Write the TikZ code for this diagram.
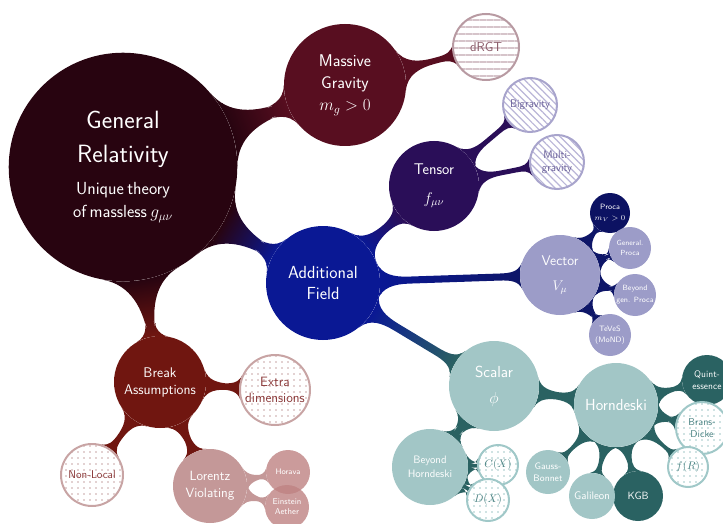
\documentclass[tikz,border=0pt]{standalone}
\usepackage{fix-cm}
\usepackage{fontspec}
\usetikzlibrary{mindmap,patterns.meta,backgrounds}
\definecolor{grc}{RGB}{40,4,16}
\definecolor{mgc}{RGB}{88,14,32}
\definecolor{drgtb}{RGB}{184,154,162}
\definecolor{drgtl}{RGB}{214,196,202}
\definecolor{drgtt}{RGB}{138,90,104}
\definecolor{afc}{RGB}{10,24,148}
\definecolor{tenc}{RGB}{42,14,88}
\definecolor{bigb}{RGB}{168,164,204}
\definecolor{bigl}{RGB}{186,182,216}
\definecolor{bigt}{RGB}{106,96,153}
\definecolor{vecf}{RGB}{156,156,200}
\definecolor{vecc}{RGB}{14,22,104}
\definecolor{procf}{RGB}{12,18,98}
\definecolor{scaf}{RGB}{162,198,198}
\definecolor{scac}{RGB}{42,98,98}
\definecolor{teab}{RGB}{160,200,200}
\definecolor{teat}{RGB}{74,130,130}
\definecolor{brkc}{RGB}{112,22,16}
\definecolor{redb}{RGB}{200,164,164}
\definecolor{redt}{RGB}{138,56,56}
\definecolor{lorf}{RGB}{196,152,152}
\definecolor{horf}{RGB}{190,130,130}
\newcommand{\fsz}[2]{\fontsize{#1}{#2}\selectfont}
\tikzset{
  cn/.style={circle, inner sep=0pt, align=center, text=white, font=\sffamily},
  fs/.style 2 args={font=\sffamily\fsz{#1}{#2}},
  patlines/.style={cn, preaction={fill=white}, line width=2pt, draw=drgtb, text=drgtt,
     pattern={Lines[angle=0, distance=7pt, line width=1.3pt]}, pattern color=drgtl},
  patdiag/.style={cn, preaction={fill=white}, line width=2pt, draw=bigb, text=bigt,
     pattern={Lines[angle=-45, distance=5pt, line width=1.2pt]}, pattern color=bigl},
  patreddots/.style={cn, preaction={fill=white}, line width=2pt, draw=redb, text=redt,
     pattern={Dots[distance=6pt, radius=0.9pt]}, pattern color=redb},
  patteadots/.style={cn, preaction={fill=white}, line width=2pt, draw=teab, text=teat,
     pattern={Dots[distance=6pt, radius=0.9pt]}, pattern color=teab},
  bar/.style n args={3}{circle connection bar switch color=from (#1) to (#2), line width=#3},
}
\begin{document}
\begin{tikzpicture}[x=1pt, y=-1pt]
\useasboundingbox (0,0) rectangle (723,524);
% nodes
\node[cn, fill=grc, minimum size=220pt, text width=200pt] (gr) at (123,167)
  {\fsz{25}{34}General\\Relativity\par\vspace{9pt}\fsz{17.5}{23}Unique theory\\of massless $g_{\mu\nu}$\par};
\node[cn, fill=mgc, minimum size=122pt, fs={17}{22}] (mg) at (345,85)
  {Massive\\Gravity\\$m_g>0$};
\node[patlines, minimum size=66pt, fs={13}{15}] (drgt) at (486,47) {dRGT};
\node[cn, fill=afc, minimum size=114pt, fs={17.5}{21}] (af) at (323,283)
  {Additional\\Field};
\node[cn, fill=tenc, minimum size=90pt, fs={15.5}{18}] (ten) at (434,186)
  {Tensor\\[11pt]$f_{\mu\nu}$};
\node[patdiag, minimum size=54pt, fs={11}{13}] (big) at (530,105) {Bigravity};
\node[patdiag, minimum size=54pt, fs={11}{13}] (mul) at (557,162) {Multi-\\gravity};
\node[cn, fill=vecf, minimum size=80pt, fs={14}{17}] (vec) at (560,275)
  {Vector\\[8pt]$V_\mu$};
\node[cn, fill=procf, minimum size=40pt, fs={7.7}{11}] (proca) at (610,213)
  {Proca\\$m_V>0$};
\node[cn, fill=vecf, minimum size=42pt, fs={7.4}{10}] (gproca) at (630,248)
  {General.\\Proca};
\node[cn, fill=vecf, minimum size=42pt, fs={7.6}{12}] (bproca) at (635,295)
  {Beyond\\gen. Proca};
\node[cn, fill=vecf, minimum size=42pt, fs={7.8}{11}] (teves) at (610,335)
  {TeVeS\\(MoND)};
\node[cn, fill=scaf, minimum size=90pt, fs={16}{19}] (sca) at (494,386)
  {Scalar\\[7pt]$\phi$};
\node[cn, fill=scaf, minimum size=84pt, fs={16}{18}] (hor) at (616,405) {Horndeski};
\node[cn, fill=scac, minimum size=50pt, fs={9.5}{12}] (quint) at (707,380)
  {Quint-\\essence};
\node[patteadots, minimum size=52pt, fs={10}{12}] (bd) at (702,428) {Brans-\\Dicke};
\node[patteadots, minimum size=40pt, fs={11}{13}] (fr) at (688,467) {$f(R)$};
\node[cn, fill=scac, minimum size=50pt, fs={10.5}{12}] (kgb) at (638,496) {KGB};
\node[cn, fill=scaf, minimum size=46pt, fs={11}{13}] (gal) at (592,496) {Galileon};
\node[cn, fill=scaf, minimum size=44pt, fs={9.4}{12}] (gb) at (548,472) {Gauss-\\Bonnet};
\node[cn, fill=scaf, minimum size=76pt, fs={10.8}{14}] (bh) at (430,467)
  {Beyond\\Horndeski};
\node[patteadots, minimum size=40pt, fs={11}{13}] (cx) at (498,465) {$C(X)$};
\node[patteadots, minimum size=42pt, fs={11}{13}] (dx) at (488,500) {$D(X)$};
\node[cn, fill=brkc, minimum size=92pt, fs={14}{17}] (brk) at (160,382)
  {Break\\Assumptions};
\node[patreddots, minimum size=70pt, fs={13.5}{16}] (ext) at (275,390)
  {Extra\\dimensions};
\node[patreddots, minimum size=62pt, fs={11.3}{13}] (nl) at (92,475) {Non-Local};
\node[cn, fill=lorf, minimum size=74pt, fs={13.4}{17}] (lor) at (210,486)
  {Lorentz\\Violating};
\node[cn, fill=horf, fill opacity=0.8, text opacity=1, minimum size=44pt, fs={8}{10}] (hora) at (288,472)
  {Horava};
\node[cn, fill=horf, fill opacity=0.8, text opacity=1, minimum size=44pt, fs={8.5}{10}] (aeth) at (287,507)
  {Einstein\\Aether};
% connections
\begin{scope}[on background layer]
\path (gr) to[bar={grc}{mgc}{7pt}] (mg);
\path (gr) to[bar={grc}{afc}{9pt}] (af);
\path (gr) to[bar={grc}{brkc}{10pt}] (brk);
\path (mg) to[bar={mgc}{mgc}{4pt}] (drgt);
\path (af) to[bar={afc}{tenc}{5pt}] (ten);
\path (af) to[bar={afc}{vecc}{5pt}] (vec);
\path (af) to[bar={afc}{scac}{6pt}] (sca);
\path (ten) to[bar={tenc}{tenc}{4pt}] (big);
\path (ten) to[bar={tenc}{tenc}{4pt}] (mul);
\path (vec) to[bar={vecc}{vecc}{4pt}] (proca);
\path (vec) to[bar={vecc}{vecc}{4pt}] (gproca);
\path (vec) to[bar={vecc}{vecc}{4pt}] (bproca);
\path (vec) to[bar={vecc}{vecc}{4pt}] (teves);
\path (sca) to[bar={scac}{scac}{5pt}] (hor);
\path (sca) to[bar={scac}{scac}{5pt}] (bh);
\path (hor) to[bar={scac}{scac}{4pt}] (quint);
\path (hor) to[bar={scac}{scac}{4pt}] (bd);
\path (hor) to[bar={scac}{scac}{4pt}] (fr);
\path (hor) to[bar={scac}{scac}{4pt}] (kgb);
\path (hor) to[bar={scac}{scac}{4pt}] (gal);
\path (hor) to[bar={scac}{scac}{4pt}] (gb);
\path (bh) to[bar={scac}{scac}{4pt}] (cx);
\path (bh) to[bar={scac}{scac}{4pt}] (dx);
\path (brk) to[bar={brkc}{brkc}{5pt}] (ext);
\path (brk) to[bar={brkc}{brkc}{5pt}] (nl);
\path (brk) to[bar={brkc}{brkc}{5pt}] (lor);
\path (lor) to[bar={lorf}{lorf}{4pt}] (hora);
\path (lor) to[bar={lorf}{lorf}{4pt}] (aeth);
\end{scope}
\end{tikzpicture}
\end{document}
